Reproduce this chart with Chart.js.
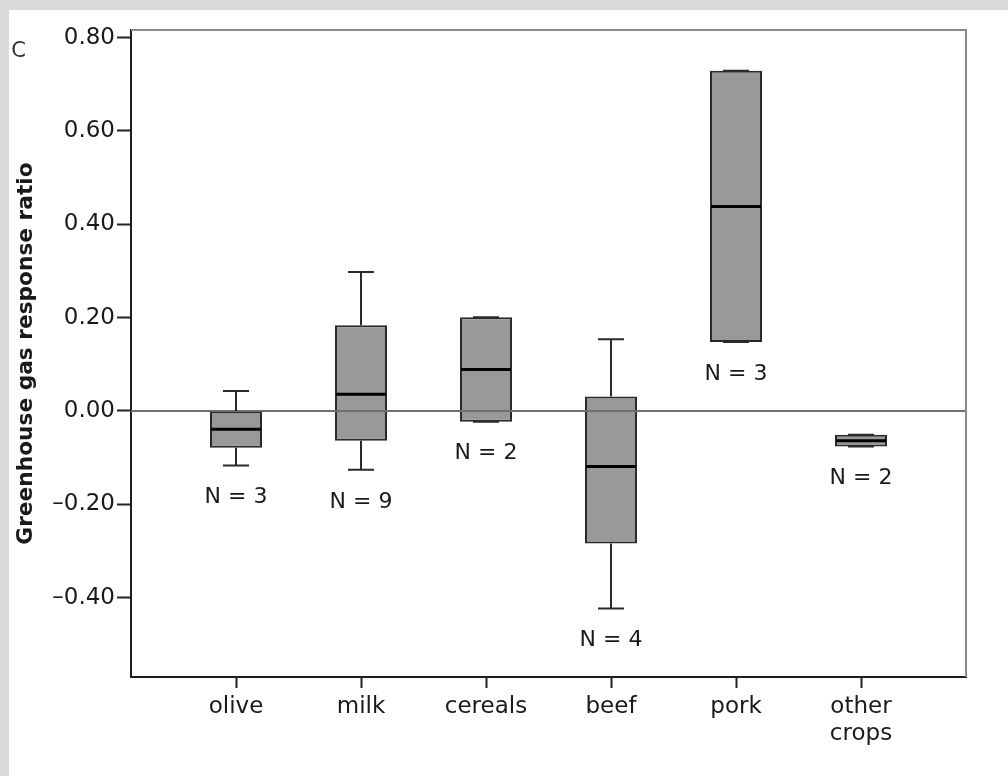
<!DOCTYPE html>
<html>
<head>
<meta charset="utf-8">
<script src="https://cdn.jsdelivr.net/npm/chart.js@4.4.1/dist/chart.umd.min.js"></script>
<style>
  html, body { margin: 0; padding: 0; background: #d9d9d9; }
  #wrap { position: absolute; left: 9px; top: 10px; width: 999px; height: 766px; background: #fff; }
</style>
</head>
<body>
<div id="wrap"><canvas id="grafico" width="999" height="766"></canvas></div>
<script>
// categorie e valori
const categories = ['olive', 'milk', 'cereals', 'beef', 'pork', ['other', 'crops']];
const whiskerLow  = [-0.117, -0.126, -0.023, -0.423, 0.148, -0.076];
const q1          = [-0.079, -0.064, -0.023, -0.284, 0.148, -0.076];
const median      = [-0.039,  0.036,  0.089, -0.119, 0.438, -0.064];
const q3          = [ 0.000,  0.184,  0.201,  0.031, 0.729, -0.051];
const whiskerHigh = [ 0.043,  0.298,  0.201,  0.154, 0.729, -0.051];
const nCounts     = [3, 9, 2, 4, 3, 2];
const yTicks = [-0.4, -0.2, 0, 0.2, 0.4, 0.6, 0.8];

const FONT = 'DejaVu Sans';
const TEXT = '#1a1a1a';

function fmt(v) {
    let s = Math.abs(v).toFixed(2);
    return v < -1e-9 ? '\u2013' + s : s;
}

// disegna baffi, mediane, linea dello zero, etichette N e cornice
const boxPlugin = {
    id: 'boxPlugin',
    afterDatasetsDraw(chart) {
        const ctx = chart.ctx;
        const x = chart.scales.x, y = chart.scales.y;
        const area = chart.chartArea;
        const meta = chart.getDatasetMeta(0);
        ctx.save();

        // linea dello zero
        let y0 = y.getPixelForValue(0);
        ctx.strokeStyle = '#707070';
        ctx.lineWidth = 2;
        ctx.beginPath();
        ctx.moveTo(area.left, y0);
        ctx.lineTo(area.right, y0);
        ctx.stroke();

        for (let i = 0; i < categories.length; i++) {
            const cx = x.getPixelForValue(i);
            const half = meta.data[i].width / 2;
            const capHalf = half / 2;
            const pLow = y.getPixelForValue(whiskerLow[i]);
            const pHigh = y.getPixelForValue(whiskerHigh[i]);
            const pQ1 = y.getPixelForValue(q1[i]);
            const pQ3 = y.getPixelForValue(q3[i]);
            const pMed = y.getPixelForValue(median[i]);

            ctx.strokeStyle = '#2a2a2a';
            ctx.lineWidth = 2;
            ctx.beginPath();
            ctx.moveTo(cx, pQ3); ctx.lineTo(cx, pHigh);
            ctx.moveTo(cx, pQ1); ctx.lineTo(cx, pLow);
            ctx.moveTo(cx - capHalf, pHigh); ctx.lineTo(cx + capHalf, pHigh);
            ctx.moveTo(cx - capHalf, pLow); ctx.lineTo(cx + capHalf, pLow);
            ctx.stroke();

            ctx.strokeStyle = '#000';
            ctx.lineWidth = 3;
            ctx.beginPath();
            ctx.moveTo(cx - half + 1, pMed);
            ctx.lineTo(cx + half - 1, pMed);
            ctx.stroke();

            // etichetta N sotto il box
            const bottom = Math.max(pLow, pQ1);
            ctx.fillStyle = TEXT;
            ctx.font = '22px "' + FONT + '"';
            ctx.textAlign = 'center';
            ctx.textBaseline = 'middle';
            ctx.fillText('N = ' + nCounts[i], cx, bottom + 32);
        }

        // bordo superiore e destro grigio
        ctx.strokeStyle = '#8a8a8a';
        ctx.lineWidth = 2;
        ctx.beginPath();
        ctx.moveTo(area.left, area.top);
        ctx.lineTo(area.right, area.top);
        ctx.lineTo(area.right, area.bottom);
        ctx.stroke();

        // lettera del pannello
        ctx.fillStyle = '#333';
        ctx.font = '21px "' + FONT + '"';
        ctx.textAlign = 'center';
        ctx.textBaseline = 'middle';
        ctx.fillText('C', 9.5, 42);
        ctx.restore();
    }
};

const ctx = document.getElementById('grafico');
const myChart = new Chart(ctx, {
    type: 'bar',
    data: {
        datasets: [{
            data: categories.map((c, i) => ({ x: i, y: [q1[i], q3[i]] })),
            backgroundColor: '#999999',
            borderColor: '#2a2a2a',
            borderWidth: 2,
            borderSkipped: false,
            barPercentage: 0.416,
            categoryPercentage: 1
        }]
    },
    options: {
        responsive: false,
        devicePixelRatio: 1,
        animation: false,
        layout: { padding: { top: 20, right: 42, left: 0, bottom: 0 } },
        plugins: { legend: { display: false }, tooltip: { enabled: false } },
        scales: {
            x: {
                type: 'linear',
                min: -0.84,
                max: 5.84,
                offset: false,
                afterBuildTicks: (scale) => { scale.ticks = categories.map((c, i) => ({ value: i })); },
                afterFit: (scale) => { scale.height = 99; },
                grid: { offset: false, drawOnChartArea: false, drawTicks: true, tickLength: 11, tickColor: '#222', tickWidth: 2 },
                border: { display: true, color: '#1e1e1e', width: 2 },
                ticks: {
                    callback: (v) => categories[v],
                    font: { family: FONT, size: 23 },
                    color: TEXT,
                    padding: 5,
                    maxRotation: 0,
                    autoSkip: false
                }
            },
            y: {
                min: -0.570,
                max: 0.8164,
                afterBuildTicks: (scale) => { scale.ticks = yTicks.map(v => ({ value: v })); },
                afterFit: (scale) => { scale.width = 122; },
                grid: { drawOnChartArea: false, drawTicks: true, tickLength: 14, tickColor: '#222', tickWidth: 2 },
                border: { display: true, color: '#1e1e1e', width: 2 },
                ticks: {
                    callback: (v) => fmt(v),
                    font: { family: FONT, size: 23 },
                    color: TEXT,
                    padding: 2
                },
                title: {
                    display: true,
                    text: 'Greenhouse gas response ratio',
                    font: { family: FONT, size: 21.7, weight: 'bold' },
                    color: TEXT,
                    padding: { top: 4, bottom: 0 }
                }
            }
        }
    },
    plugins: [boxPlugin]
});
</script>
</body>
</html>
